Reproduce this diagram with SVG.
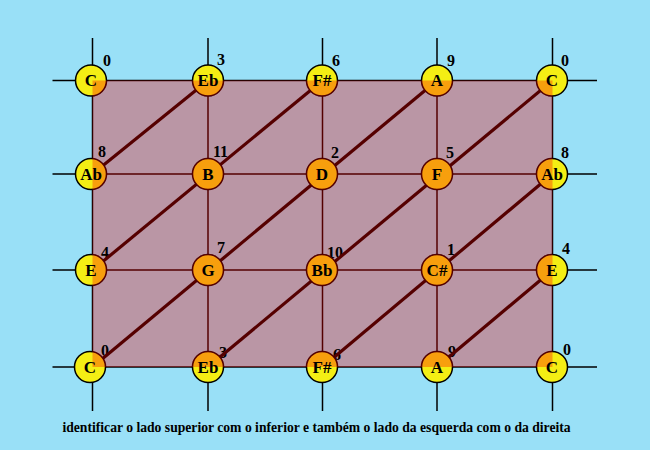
<svg xmlns="http://www.w3.org/2000/svg" width="650" height="450" viewBox="0 0 650 450">
<style>
.grid{stroke:#000;stroke-width:1.5;fill:none}
.diag{stroke:#550000;stroke-width:3.2;fill:none;stroke-linecap:butt}
.node circle{fill:#f4ee14;stroke:#000;stroke-width:1.5}
.node text{font-family:"Liberation Serif","Times New Roman",serif;font-weight:bold;font-size:17px;text-anchor:middle;fill:#000}
.num{font-family:"Liberation Serif","Times New Roman",serif;font-weight:bold;font-size:16px;fill:#000}
.caption{font-family:"Liberation Serif","Times New Roman",serif;font-weight:bold;font-size:13.65px;fill:#000;text-anchor:middle}
.tint{fill:#ff0000;fill-opacity:0.33}
</style>
<defs>
<clipPath id="nodeClip">
<circle cx="91" cy="80.5" r="16.3"/><circle cx="208" cy="80.5" r="16.3"/><circle cx="322" cy="80.5" r="16.3"/><circle cx="437" cy="80.5" r="16.3"/><circle cx="552" cy="80.5" r="16.3"/>
<circle cx="91" cy="174" r="16.3"/><circle cx="208" cy="174" r="16.3"/><circle cx="322" cy="174" r="16.3"/><circle cx="437" cy="174" r="16.3"/><circle cx="552" cy="174" r="16.3"/>
<circle cx="91" cy="270" r="16.3"/><circle cx="208" cy="270" r="16.3"/><circle cx="322" cy="270" r="16.3"/><circle cx="437" cy="270" r="16.3"/><circle cx="552" cy="270" r="16.3"/>
<circle cx="90" cy="367" r="16.3"/><circle cx="208" cy="367" r="16.3"/><circle cx="322" cy="367" r="16.3"/><circle cx="437" cy="367" r="16.3"/><circle cx="552" cy="367" r="16.3"/>
</clipPath>
</defs>
<rect x="0" y="0" width="650" height="450" fill="#99e0f7"/>
<g id="grid">
<line class="grid" x1="52.5" y1="80.5" x2="597" y2="80.5"/>
<line class="grid" x1="52.5" y1="174" x2="597" y2="174"/>
<line class="grid" x1="52.5" y1="270" x2="597" y2="270"/>
<line class="grid" x1="52.5" y1="367" x2="597" y2="367"/>
<line class="grid" x1="92.5" y1="38" x2="92.5" y2="411"/>
<line class="grid" x1="208" y1="38" x2="208" y2="411"/>
<line class="grid" x1="322.5" y1="38" x2="322.5" y2="411"/>
<line class="grid" x1="437" y1="38" x2="437" y2="411"/>
<line class="grid" x1="552.5" y1="38" x2="552.5" y2="411"/>
</g>
<rect id="torus-region" class="tint" x="92.5" y="80.5" width="460" height="286.5"/>
<g id="numbers">
<text class="num" x="103" y="66">0</text>
<text class="num" x="217" y="65">3</text>
<text class="num" x="332" y="66">6</text>
<text class="num" x="447" y="66">9</text>
<text class="num" x="561" y="66">0</text>
<text class="num" x="98" y="157">8</text>
<text class="num" x="213" y="157">11</text>
<text class="num" x="331" y="158">2</text>
<text class="num" x="446" y="158">5</text>
<text class="num" x="561" y="158">8</text>
<text class="num" x="101" y="258">4</text>
<text class="num" x="217" y="253">7</text>
<text class="num" x="327" y="258">10</text>
<text class="num" x="447" y="255">1</text>
<text class="num" x="562" y="254">4</text>
<text class="num" x="101" y="356">0</text>
<text class="num" x="219" y="358">3</text>
<text class="num" x="333" y="360">6</text>
<text class="num" x="448" y="357">9</text>
<text class="num" x="563" y="355">0</text>
</g>
<g id="connectors">
<line class="diag" x1="92.5" y1="174" x2="208" y2="80.5"/>
<line class="diag" x1="92.5" y1="270" x2="322.5" y2="80.5"/>
<line class="diag" x1="92.5" y1="367" x2="437" y2="80.5"/>
<line class="diag" x1="208" y1="367" x2="552.5" y2="80.5"/>
<line class="diag" x1="322.5" y1="367" x2="552.5" y2="174"/>
<line class="diag" x1="437" y1="367" x2="552.5" y2="270"/>
</g>
<g id="circles" class="node">
<circle cx="91" cy="80.5" r="15.5"/><circle cx="208" cy="80.5" r="15.5"/><circle cx="322" cy="80.5" r="15.5"/><circle cx="437" cy="80.5" r="15.5"/><circle cx="552" cy="80.5" r="15.5"/>
<circle cx="91" cy="174" r="15.5"/><circle cx="208" cy="174" r="15.5"/><circle cx="322" cy="174" r="15.5"/><circle cx="437" cy="174" r="15.5"/><circle cx="552" cy="174" r="15.5"/>
<circle cx="91" cy="270" r="15.5"/><circle cx="208" cy="270" r="15.5"/><circle cx="322" cy="270" r="15.5"/><circle cx="437" cy="270" r="15.5"/><circle cx="552" cy="270" r="15.5"/>
<circle cx="90" cy="367" r="15.5"/><circle cx="208" cy="367" r="15.5"/><circle cx="322" cy="367" r="15.5"/><circle cx="437" cy="367" r="15.5"/><circle cx="552" cy="367" r="15.5"/>
</g>
<rect class="tint" x="92.5" y="80.5" width="460" height="286.5" clip-path="url(#nodeClip)"/>
<g id="n-0-0" class="node"><text x="91" y="86">C</text></g>
<g id="n-0-1" class="node"><text x="208" y="86">Eb</text></g>
<g id="n-0-2" class="node"><text x="322" y="86">F#</text></g>
<g id="n-0-3" class="node"><text x="437" y="86">A</text></g>
<g id="n-0-4" class="node"><text x="552" y="86">C</text></g>
<g id="n-1-0" class="node"><text x="91" y="179.5">Ab</text></g>
<g id="n-1-1" class="node"><text x="208" y="179.5">B</text></g>
<g id="n-1-2" class="node"><text x="322" y="179.5">D</text></g>
<g id="n-1-3" class="node"><text x="437" y="179.5">F</text></g>
<g id="n-1-4" class="node"><text x="552" y="179.5">Ab</text></g>
<g id="n-2-0" class="node"><text x="91" y="275.5">E</text></g>
<g id="n-2-1" class="node"><text x="208" y="275.5">G</text></g>
<g id="n-2-2" class="node"><text x="322" y="275.5">Bb</text></g>
<g id="n-2-3" class="node"><text x="437" y="275.5">C#</text></g>
<g id="n-2-4" class="node"><text x="552" y="275.5">E</text></g>
<g id="n-3-0" class="node"><text x="90" y="372.5">C</text></g>
<g id="n-3-1" class="node"><text x="208" y="372.5">Eb</text></g>
<g id="n-3-2" class="node"><text x="322" y="372.5">F#</text></g>
<g id="n-3-3" class="node"><text x="437" y="372.5">A</text></g>
<g id="n-3-4" class="node"><text x="552" y="372.5">C</text></g>
<text class="caption" x="316.5" y="432">identificar o lado superior com o inferior e também o lado da esquerda com o da direita</text>
</svg>
